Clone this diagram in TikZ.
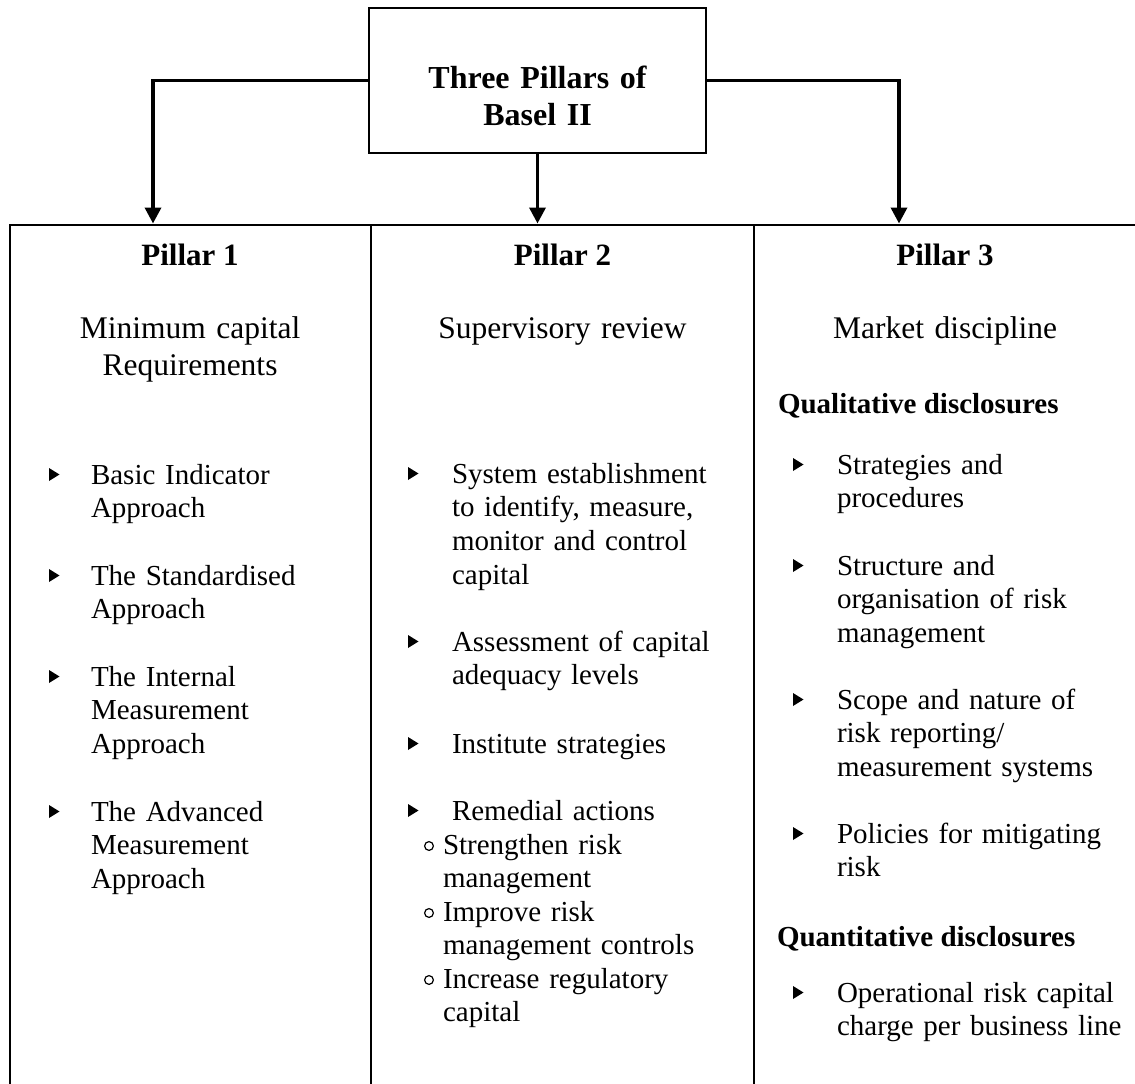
\documentclass[tikz,border=0pt]{standalone}
\usepackage{fontspec}
\setmainfont{Liberation Serif}
\usetikzlibrary{arrows.meta,calc}

\tikzset{
  every node/.style={inner sep=0pt, outer sep=0pt},
  body/.style={font=\fontsize{29}{33.7}\selectfont, text width=330pt, align=left, anchor=base west},
  subhead/.style={font=\fontsize{31.5}{37}\selectfont, text width=340pt, align=center, anchor=base},
  pillarhead/.style={font=\bfseries\fontsize{31}{37}\selectfont, anchor=base},
  sectionhead/.style={font=\bfseries\fontsize{29}{33.7}\selectfont, anchor=base west},
  titlebox/.style={draw, line width=2.5pt, minimum width=337pt, minimum height=145pt},
  titletext/.style={font=\bfseries\fontsize{32}{37}\selectfont, text width=320pt, align=center, anchor=base},
  tableline/.style={line width=2.5pt},
  connector/.style={line width=3.5pt, -{Triangle[length=16pt,width=16pt]}},
}

% item with a filled triangle marker: name, marker x, text x, baseline, text
\newcommand\tribullet[5]{%
  \node[body] (#1) at (#3,#4) {#5};
  \fill ($(#1.base west)+(#2-#3,-16)$) -- ++(0,13) -- ++(10.5,-6.5) -- cycle;
}
% sub-item with a hollow ring marker: name, text x, baseline, text
\newcommand\ringbullet[4]{%
  \node[body] (#1) at (#2,#3) {#4};
  \draw[line width=1.2pt] ($(#1.base west)+(-14,-8)$) circle[radius=4.4pt];
}

\begin{document}
\begin{tikzpicture}[x=1pt,y=-1pt]
\useasboundingbox (0,0) rectangle (1135,1084);

% title box
\node[titlebox] (title) at (537.5,80.5) {};
\node[titletext] (titletext) at (537.5,88) {Three Pillars of\\Basel II};

% arrow ends on the table's top rule
\coordinate (p1top) at (153,223.5);
\coordinate (p2top) at (537.5,223.5);
\coordinate (p3top) at (899,223.5);
\draw[connector] (title.west) -| (p1top);
\draw[connector] (title.south) -- (p2top);
\draw[connector] (title.east) -| (p3top);

% table rules
\draw[tableline] (10,1084) -- (10,225) -- (1135,225);
\draw[tableline] (371,225) -- (371,1084);
\draw[tableline] (754,225) -- (754,1084);

% column headings
\node[pillarhead] (p1) at (190,265) {Pillar 1};
\node[pillarhead] (p2) at (562.5,265) {Pillar 2};
\node[pillarhead] (p3) at (945,265) {Pillar 3};
\node[subhead] (s1) at (190,338) {Minimum capital\\Requirements};
\node[subhead] (s2) at (562.5,338) {Supervisory review};
\node[subhead] (s3) at (945,338) {Market discipline};

% Pillar 1
\tribullet{a1}{49}{91}{484}{Basic Indicator\\Approach}
\tribullet{a2}{49}{91}{585}{The Standardised\\Approach}
\tribullet{a3}{49}{91}{686}{The Internal\\Measurement\\Approach}
\tribullet{a4}{49}{91}{821}{The Advanced\\Measurement\\Approach}

% Pillar 2
\tribullet{b1}{408}{452}{483}{System establishment\\to identify, measure,\\monitor and control\\capital}
\tribullet{b2}{408}{452}{651}{Assessment of capital\\adequacy levels}
\tribullet{b3}{408}{452}{753}{Institute strategies}
\tribullet{b4}{408}{452}{820}{Remedial actions}
\ringbullet{c1}{443}{854}{Strengthen risk\\management}
\ringbullet{c2}{443}{921}{Improve risk\\management controls}
\ringbullet{c3}{443}{988}{Increase regulatory\\capital}

% Pillar 3
\node[sectionhead] (qual) at (778,413) {Qualitative disclosures};
\tribullet{d1}{793}{837}{474}{Strategies and\\procedures}
\tribullet{d2}{793}{837}{575}{Structure and\\organisation of risk\\management}
\tribullet{d3}{793}{837}{709}{Scope and nature of\\risk reporting/\\measurement systems}
\tribullet{d4}{793}{837}{843}{Policies for mitigating\\risk}
\node[sectionhead] (quant) at (777,946) {Quantitative disclosures};
\tribullet{d5}{793}{837}{1002}{Operational risk capital\\charge per business line}
\end{tikzpicture}
\end{document}
